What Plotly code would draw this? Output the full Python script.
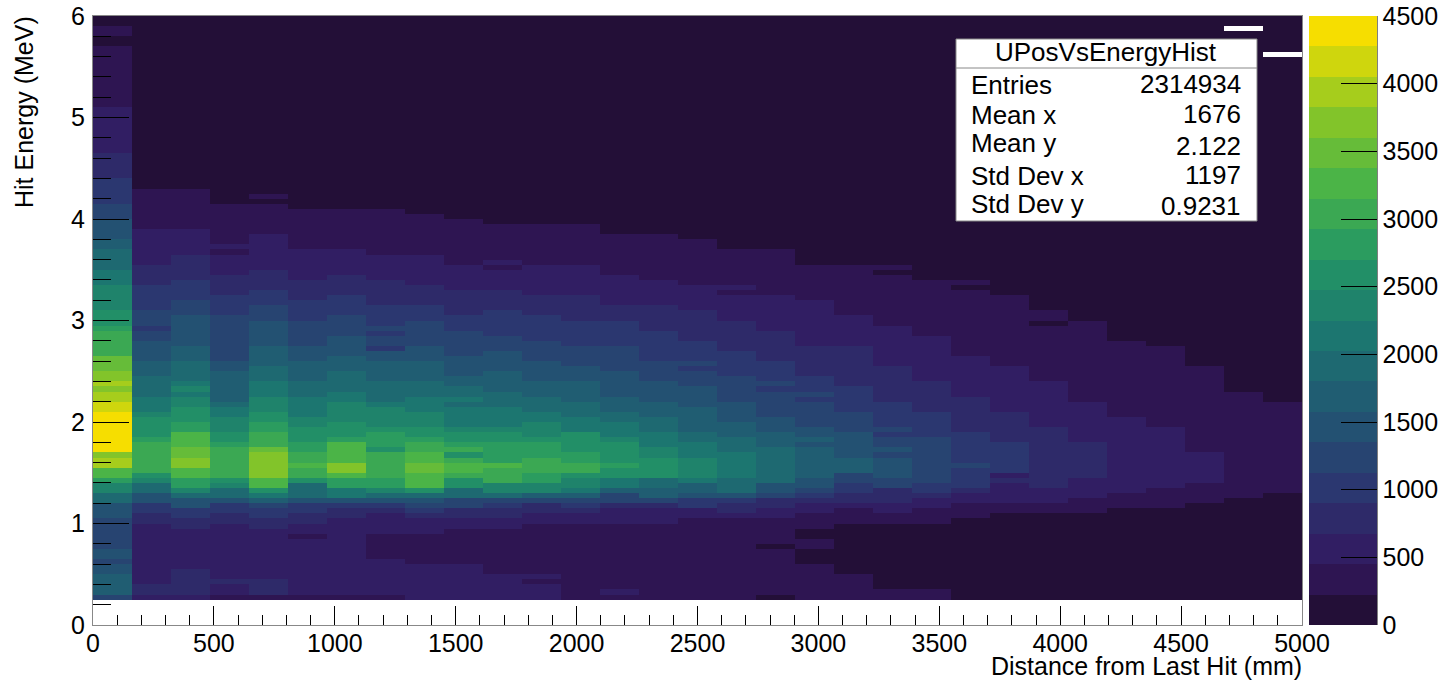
import plotly.graph_objects as go

# Histogram: 31 x-bins over 0-5000 mm, 120 y-bins over 0-6 MeV.
# Each column: (first y-bin of run, colour band of run); band b holds counts in [225*b, 225*(b+1)).
X_BINS = 31
Y_BINS = 120
X_MAX = 5000
Y_MAX = 6
BAND = 225
N_BANDS = 20

c00 = [(5,5),(6,7),(10,6),(12,5),(13,6),(15,5),(21,6),(24,8),(26,10),(28,12),(29,14),(31,17),(33,16),(34,19),(42,18),(44,17),(46,16),(47,17),(48,16),(50,15),(53,13),(58,12),(59,11),(62,10),(67,9),(70,8),(74,7),(76,6),(80,5),(83,4),(88,3),(93,2),(102,1),(114,0),(116,1),(118,0)]
c01 = [(5,2),(6,3),(8,2),(20,3),(22,4),(24,6),(26,8),(28,10),(29,11),(30,13),(36,12),(37,11),(41,10),(42,9),(45,8),(49,7),(52,6),(56,5),(58,4),(59,5),(62,4),(67,3),(71,2),(78,1),(86,0)]
c02 = [(5,2),(6,3),(11,2),(19,3),(21,4),(23,6),(25,8),(26,10),(27,12),(29,14),(31,16),(33,15),(35,14),(38,12),(40,11),(43,10),(45,9),(46,10),(47,9),(48,8),(52,7),(55,6),(60,6),(61,5),(62,5),(64,4),(68,3),(73,2),(78,1),(86,0)]
c03 = [(5,1),(6,2),(8,3),(9,2),(20,3),(22,4),(24,6),(25,8),(27,10),(28,11),(29,13),(35,12),(36,11),(38,10),(41,9),(43,8),(44,7),(50,6),(52,5),(61,4),(65,3),(69,2),(73,1),(74,2),(75,1),(83,0)]
c04 = [(5,1),(6,3),(9,2),(19,3),(21,4),(23,5),(24,7),(25,9),(26,11),(27,14),(29,16),(34,15),(35,13),(38,12),(40,11),(42,10),(45,9),(48,8),(51,7),(55,6),(60,5),(63,4),(66,3),(70,2),(77,1),(83,0),(84,1),(85,0)]
c05 = [(5,1),(6,2),(17,1),(18,2),(20,3),(22,4),(24,6),(25,8),(28,11),(29,13),(31,14),(32,13),(34,12),(36,11),(39,10),(41,9),(45,8),(48,7),(52,6),(55,5),(60,4),(64,3),(68,2),(74,1),(82,0)]
c06 = [(5,1),(6,2),(21,3),(23,4),(24,6),(25,9),(27,12),(29,14),(30,16),(32,14),(36,12),(37,11),(40,10),(44,9),(46,8),(50,7),(53,6),(57,5),(61,4),(65,3),(69,2),(74,1),(82,0)]
c07 = [(5,1),(6,2),(13,1),(18,2),(22,3),(23,4),(24,6),(25,8),(26,10),(27,12),(29,13),(34,11),(35,12),(38,11),(39,10),(43,9),(44,8),(48,7),(52,6),(54,4),(55,5),(57,4),(58,5),(59,4),(63,3),(68,2),(73,1),(82,0)]
c08 = [(5,2),(12,1),(18,2),(21,3),(22,4),(23,5),(24,6),(25,8),(26,11),(27,14),(30,15),(32,14),(34,13),(36,12),(37,11),(39,10),(42,9),(45,8),(48,7),(52,6),(55,5),(60,4),(63,3),(67,2),(73,1),(81,0)]
c09 = [(5,2),(12,1),(19,2),(21,3),(23,5),(25,8),(27,11),(29,13),(30,14),(32,13),(33,11),(34,13),(35,12),(36,11),(38,10),(39,9),(43,8),(44,9),(45,8),(47,7),(49,6),(53,5),(58,4),(61,3),(66,2),(71,1),(80,0)]
c10 = [(5,2),(10,1),(19,2),(21,3),(23,4),(24,5),(25,8),(26,10),(28,13),(31,14),(32,12),(36,11),(38,10),(39,9),(43,8),(46,7),(50,6),(54,5),(57,4),(62,3),(66,2),(70,1),(71,2),(72,1),(79,0)]
c11 = [(5,2),(8,1),(9,2),(10,1),(20,2),(22,3),(24,5),(25,7),(26,10),(28,12),(30,13),(33,12),(36,11),(37,10),(40,9),(42,8),(45,7),(48,6),(52,5),(56,4),(61,3),(65,2),(71,1),(79,0)]
c12 = [(5,1),(20,2),(22,3),(23,4),(24,5),(25,7),(26,9),(27,10),(29,11),(30,13),(32,12),(34,11),(38,9),(41,8),(44,7),(48,6),(51,5),(55,4),(60,3),(65,2),(71,1),(79,0)]
c13 = [(5,1),(6,2),(7,1),(20,2),(23,3),(24,5),(26,7),(27,9),(29,11),(31,12),(32,11),(36,10),(37,9),(40,8),(42,7),(45,6),(50,5),(55,4),(60,3),(63,2),(69,1),(77,0)]
c14 = [(5,1),(20,2),(23,3),(24,5),(25,7),(27,8),(29,11),(33,10),(35,9),(38,8),(41,7),(44,6),(48,5),(52,4),(58,3),(63,2),(68,1),(77,0)]
c15 = [(5,1),(21,2),(23,4),(25,6),(26,7),(28,9),(29,10),(33,9),(36,8),(38,7),(43,6),(47,5),(50,4),(51,5),(52,4),(56,3),(62,2),(67,1),(76,0)]
c16 = [(5,1),(21,2),(22,3),(24,4),(25,6),(26,8),(29,9),(34,8),(37,7),(40,6),(44,5),(49,4),(54,3),(60,2),(65,1),(66,2),(67,1),(74,0)]
c17 = [(5,0),(6,1),(15,0),(16,1),(21,2),(23,3),(25,5),(26,6),(28,8),(35,7),(38,6),(41,5),(46,4),(47,5),(48,4),(52,3),(58,2),(65,1),(74,0)]
c18 = [(5,1),(12,0),(15,1),(17,0),(19,1),(22,2),(24,3),(25,4),(26,5),(27,6),(29,7),(35,6),(36,7),(37,6),(39,5),(44,4),(45,5),(46,4),(49,3),(55,2),(64,1),(71,0)]
c19 = [(5,1),(10,0),(20,1),(23,2),(24,3),(26,4),(28,5),(30,7),(33,6),(38,5),(42,4),(47,3),(55,2),(61,1),(71,0)]
c20 = [(5,1),(7,0),(20,1),(22,2),(24,3),(27,5),(29,6),(33,5),(34,6),(35,5),(37,4),(38,5),(39,4),(44,3),(51,2),(59,1),(69,0),(70,1),(71,0)]
c21 = [(5,1),(7,0),(20,1),(23,2),(25,3),(26,4),(28,5),(37,4),(42,3),(48,2),(57,1),(68,0)]
c22 = [(5,0),(21,1),(24,2),(26,3),(27,4),(31,5),(32,4),(38,3),(45,2),(53,1),(66,0),(67,1),(68,0)]
c23 = [(5,0),(22,1),(24,2),(28,3),(29,2),(30,4),(36,3),(42,2),(51,1),(65,0)]
c24 = [(5,0),(22,1),(24,2),(27,3),(39,2),(48,1),(59,0),(60,1),(62,0)]
c25 = [(5,0),(22,1),(25,2),(29,3),(36,2),(44,1),(60,0)]
c26 = [(5,0),(23,1),(26,2),(41,1),(56,0)]
c27 = [(5,0),(23,1),(27,2),(39,1),(55,0)]
c28 = [(5,0),(24,1),(28,2),(34,1),(51,0)]
c29 = [(5,0),(25,1),(46,0),(117,None),(118,0)]
c30 = [(5,0),(26,1),(44,0),(112,None),(113,0)]
columns = [c00,c01,c02,c03,c04,c05,c06,c07,c08,c09,c10,c11,c12,c13,c14,c15,c16,c17,c18,c19,c20,c21,c22,c23,c24,c25,c26,c27,c28,c29,c30]

x_title = "Distance from Last Hit (mm)"
y_title = "Hit Energy (MeV)"
stats_title = "UPosVsEnergyHist"
stats_names = ["Entries", "Mean x", "Mean y", "Std Dev x", "Std Dev y"]
stats_values = ["2314934", "1676", "2.122", "1197", "0.9231"]

# ROOT kViridis palette stops
pal_r = [26, 51, 43, 33, 28, 35, 74, 144, 246]
pal_g = [9, 24, 55, 87, 118, 150, 180, 200, 222]
pal_b = [30, 96, 112, 114, 112, 101, 72, 35, 0]


def palette_colour(t):
    s = min(t * 8, 7.999999)
    i = int(s)
    f = s - i
    return "rgb(%d,%d,%d)" % tuple(round(c[i] + (c[i + 1] - c[i]) * f) for c in (pal_r, pal_g, pal_b))


colorscale = []
for b in range(N_BANDS):
    col = palette_colour(int((b + 0.99) * 255 / N_BANDS) / 254)
    colorscale += [[b / N_BANDS, col], [(b + 1) / N_BANDS, col]]

z = [[None] * X_BINS for _ in range(Y_BINS)]
for cx, runs in enumerate(columns):
    for k, (start, band) in enumerate(runs):
        end = runs[k + 1][0] if k + 1 < len(runs) else Y_BINS
        if band is None:
            continue
        for r in range(start, end):
            z[r][cx] = (band + 0.5) * BAND

W, H = 1447, 680
L, R, T, B = 93, 1302, 16, 625
CB_L, CB_R = 1309, 1377
FONT = "Liberation Sans"
GREY = "#888888"


def px(v):
    return (v - L) / (R - L)


def py(v):
    return (B - v) / (B - T)


fig = go.Figure(go.Heatmap(
    z=z,
    x0=X_MAX / X_BINS / 2, dx=X_MAX / X_BINS,
    y0=Y_MAX / Y_BINS / 2, dy=Y_MAX / Y_BINS,
    zmin=0, zmax=BAND * N_BANDS, colorscale=colorscale, hoverongaps=False,
    colorbar=dict(
        x=px(CB_L), y=0, xanchor="left", yanchor="bottom", xpad=0, ypad=0,
        thickness=CB_R - CB_L, thicknessmode="pixels", len=1, lenmode="fraction",
        tickmode="array", tickvals=[0, 500, 1000, 1500, 2000, 2500, 3000, 3500, 4000, 4500],
        ticks="inside", ticklen=36, tickwidth=1, tickcolor="black",
        outlinewidth=0, tickfont=dict(family=FONT, size=25, color="black"),
    ),
))

axis_common = dict(
    showgrid=False, zeroline=False, showline=True, linecolor=GREY, linewidth=1, mirror=True,
    ticks="inside", tickcolor="black", tickwidth=1,
    tickfont=dict(family=FONT, size=25, color="black"),
)
fig.update_xaxes(range=[0, X_MAX], tick0=0, dtick=500, ticklen=19, ticklabelstandoff=-4,
                 minor=dict(dtick=100, ticks="inside", ticklen=10, tickcolor="black", tickwidth=1, showgrid=False),
                 **axis_common)
fig.update_yaxes(range=[0, Y_MAX], tick0=0, dtick=1, ticklen=36, ticklabelstandoff=2,
                 minor=dict(dtick=0.2, ticks="inside", ticklen=18, tickcolor="black", tickwidth=1, showgrid=False),
                 **axis_common)

shapes = [
    dict(type="rect", xref="paper", yref="paper", x0=px(956), x1=px(1257), y0=py(221), y1=py(39),
         fillcolor="white", line=dict(color=GREY, width=1), layer="above"),
    dict(type="line", xref="paper", yref="paper", x0=px(956), x1=px(1257), y0=py(68), y1=py(68),
         line=dict(color=GREY, width=1), layer="above"),
    dict(type="line", xref="paper", yref="paper", x0=px(CB_R), x1=px(CB_R), y0=0, y1=1,
         line=dict(color="black", width=1), layer="above"),
]


def note(text, x, y, xanchor="left", yanchor="middle", size=26, angle=0):
    return dict(text=text, xref="paper", yref="paper", x=px(x), y=py(y), xanchor=xanchor, yanchor=yanchor,
                showarrow=False, textangle=angle, font=dict(family=FONT, size=size, color="black"),
                borderpad=0, borderwidth=0)


name_ys = [85, 115, 143, 176, 204]
value_ys = [84, 114, 146, 175, 206]
notes = [note(stats_title, 1106, 52, xanchor="center", size=26)]
notes += [note(n, 971, yy) for n, yy in zip(stats_names, name_ys)]
notes += [note(v, 1241, yy, xanchor="right") for v, yy in zip(stats_values, value_ys)]
notes.append(note(x_title, 1302, 666, xanchor="right", size=25))
notes.append(note(y_title, 24, 16, xanchor="center", yanchor="top", size=25, angle=-90))

fig.update_layout(
    width=W, height=H, margin=dict(l=L, r=W - R, t=T, b=H - B, pad=0, autoexpand=False),
    paper_bgcolor="white", plot_bgcolor="white",
    shapes=shapes, annotations=notes,
)

fig.write_html("out.html", config={"displayModeBar": False},
               post_script="document.body.style.margin='0';document.body.style.overflow='hidden';")
